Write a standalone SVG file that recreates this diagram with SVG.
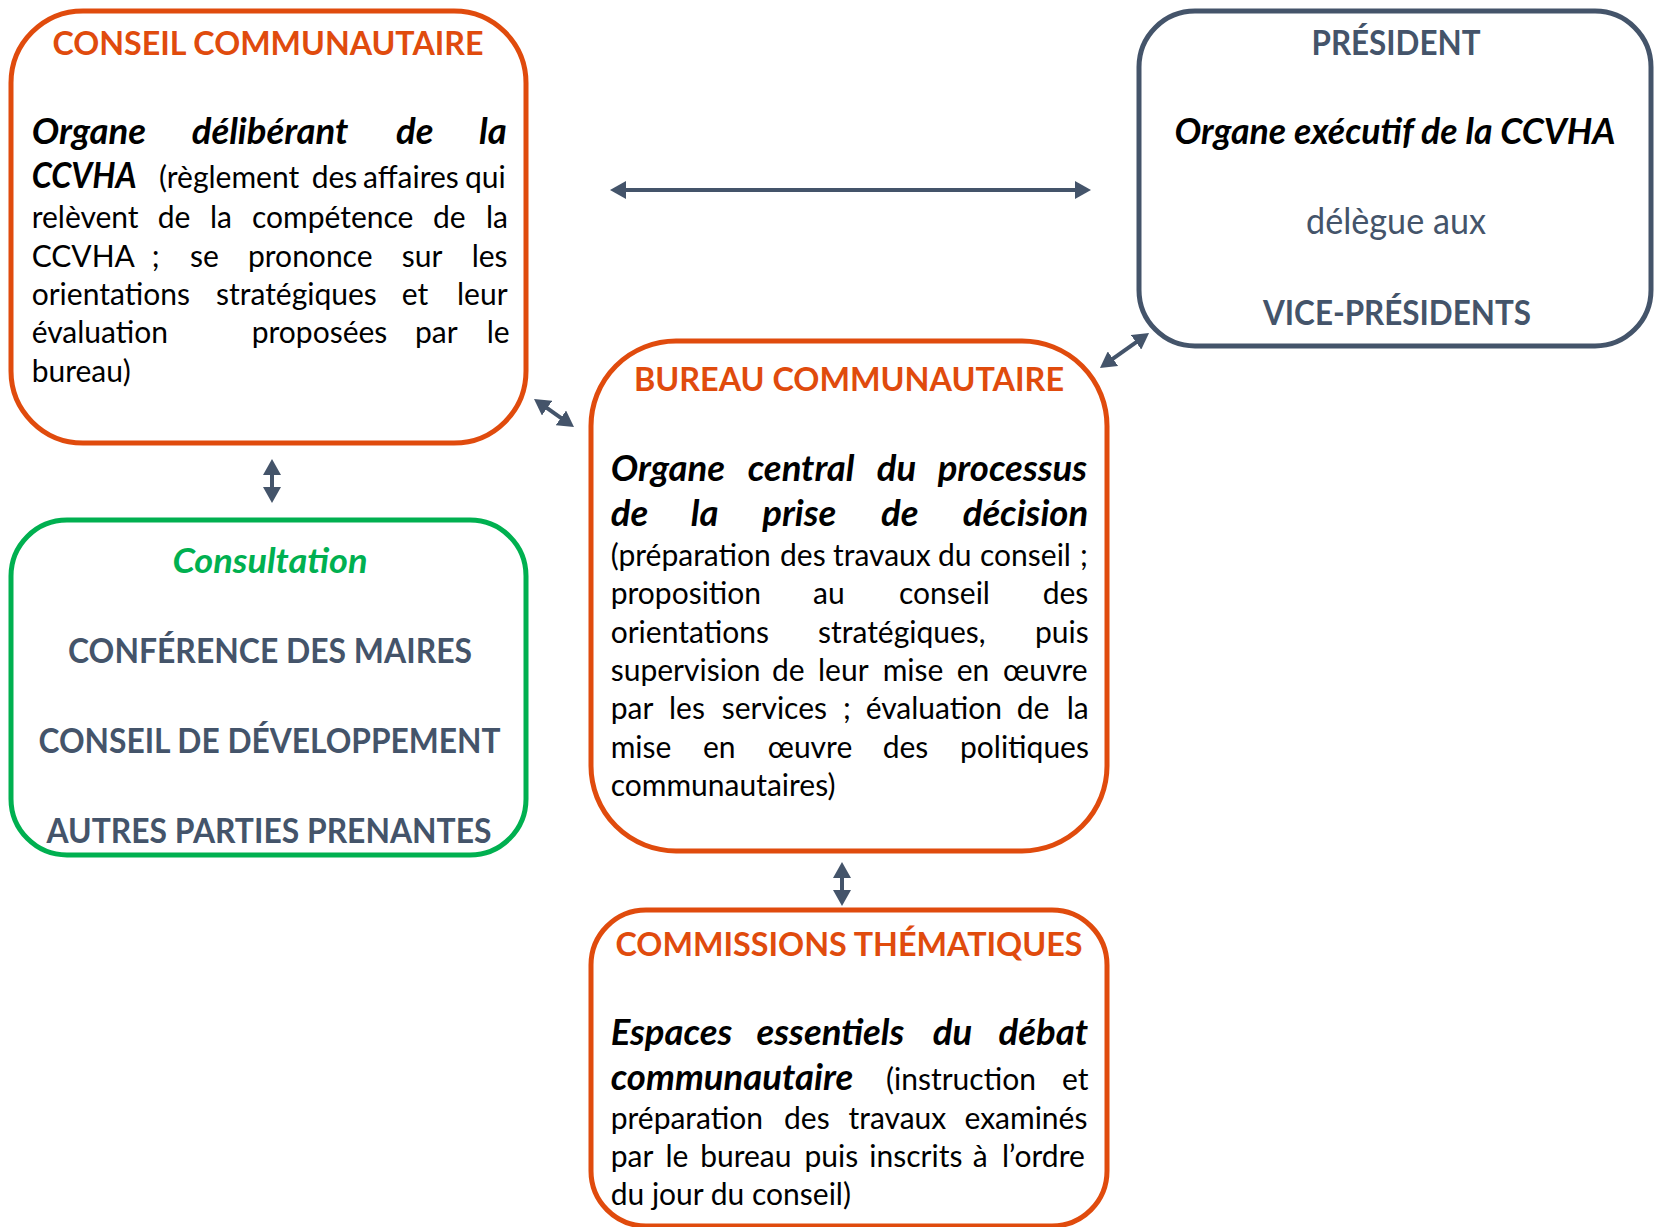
<svg xmlns="http://www.w3.org/2000/svg" width="1656" height="1227" viewBox="0 0 1656 1227">
<defs>
<style>
text{font-family:Lato,"Liberation Sans",sans-serif}
.box{fill:#fff;stroke-width:5}
.or{stroke:#E04B0D}.gy{stroke:#44546A}.gn{stroke:#00B050}
.tor{font-weight:700;font-size:32px;fill:#E04B0D}
.tgy{font-weight:700;font-size:33.5px;fill:#44546A}
.b{font-size:30px;fill:#000}
.bi{font-weight:700;font-style:italic;font-size:36.5px;fill:#000}
.conn{stroke:#44546A;stroke-width:4;fill:none}
</style>
<marker id="ah" markerUnits="userSpaceOnUse" markerWidth="16" markerHeight="18" refX="6" refY="9" orient="auto-start-reverse">
<path d="M0,0 L16,9 L0,18 z" fill="#44546A"/>
</marker>
</defs>
<rect width="1656" height="1227" fill="#fff"/>

<g id="conseil">
<rect class="box or" x="11" y="11" width="515" height="432" rx="72"/>
<text class="tor" x="268" y="55" text-anchor="middle" textLength="431" lengthAdjust="spacingAndGlyphs">CONSEIL COMMUNAUTAIRE</text>
<text class="bi" y="144"><tspan x="31.7">Organe</tspan> <tspan x="191.7">délibérant</tspan> <tspan x="396">de</tspan> <tspan x="479">la</tspan></text>
<text class="b" y="188"><tspan class="bi" x="31.7" textLength="105" lengthAdjust="spacingAndGlyphs">CCVHA</tspan> <tspan x="159">(règlement</tspan> <tspan x="311.7">des</tspan> <tspan x="363">affaires</tspan> <tspan x="465">qui</tspan></text>
<text class="b" y="228"><tspan x="31.7">relèvent</tspan> <tspan x="157.7">de</tspan> <tspan x="210">la</tspan> <tspan x="252">compétence</tspan> <tspan x="433">de</tspan> <tspan x="486">la</tspan></text>
<text class="b" y="267"><tspan x="31.7">CCVHA</tspan> <tspan x="151.7">;</tspan> <tspan x="190">se</tspan> <tspan x="248">prononce</tspan> <tspan x="401.7">sur</tspan> <tspan x="471.7">les</tspan></text>
<text class="b" y="305"><tspan x="31.7">orientations</tspan> <tspan x="216">stratégiques</tspan> <tspan x="401.7">et</tspan> <tspan x="457">leur</tspan></text>
<text class="b" y="343"><tspan x="31.7">évaluation</tspan> <tspan x="251.7">proposées</tspan> <tspan x="415">par</tspan> <tspan x="486.7">le</tspan></text>
<text class="b" x="31.7" y="382">bureau)</text>
</g>

<g id="president">
<rect class="box gy" x="1139" y="11" width="512" height="335" rx="56"/>
<text class="tgy" x="1396" y="55" text-anchor="middle" textLength="169" lengthAdjust="spacingAndGlyphs">PRÉSIDENT</text>
<text class="bi" x="1395" y="144" text-anchor="middle" textLength="441" lengthAdjust="spacingAndGlyphs">Organe exécutif de la CCVHA</text>
<text x="1396" y="234" text-anchor="middle" font-size="36" fill="#44546A" textLength="180" lengthAdjust="spacingAndGlyphs">délègue aux</text>
<text class="tgy" x="1397" y="325" text-anchor="middle" textLength="268" lengthAdjust="spacingAndGlyphs">VICE-PRÉSIDENTS</text>
</g>

<g id="bureau">
<rect class="box or" x="591" y="341" width="516" height="510" rx="85"/>
<text class="tor" x="849" y="391" text-anchor="middle" textLength="430" lengthAdjust="spacingAndGlyphs">BUREAU COMMUNAUTAIRE</text>
<text class="bi" y="481"><tspan x="610.7">Organe</tspan> <tspan x="747.7">central</tspan> <tspan x="876.7">du</tspan> <tspan x="937.7">processus</tspan></text>
<text class="bi" y="526"><tspan x="610.7">de</tspan> <tspan x="690.7">la</tspan> <tspan x="762.3">prise</tspan> <tspan x="881">de</tspan> <tspan x="962.7">décision</tspan></text>
<text class="b" y="566"><tspan x="610.7">(préparation</tspan> <tspan x="780">des</tspan> <tspan x="833">travaux</tspan> <tspan x="938">du</tspan> <tspan x="980">conseil</tspan> <tspan x="1080">;</tspan></text>
<text class="b" y="604"><tspan x="610.7">proposition</tspan> <tspan x="813">au</tspan> <tspan x="899">conseil</tspan> <tspan x="1042.7">des</tspan></text>
<text class="b" y="643"><tspan x="610.7">orientations</tspan> <tspan x="818">stratégiques,</tspan> <tspan x="1035">puis</tspan></text>
<text class="b" y="681"><tspan x="610.7">supervision</tspan> <tspan x="772">de</tspan> <tspan x="818">leur</tspan> <tspan x="882.7">mise</tspan> <tspan x="956.7">en</tspan> <tspan x="1003">œuvre</tspan></text>
<text class="b" y="719"><tspan x="610.7">par</tspan> <tspan x="669">les</tspan> <tspan x="721.7">services</tspan> <tspan x="843">;</tspan> <tspan x="865.7">évaluation</tspan> <tspan x="1016.7">de</tspan> <tspan x="1066.7">la</tspan></text>
<text class="b" y="758"><tspan x="610.7">mise</tspan> <tspan x="703">en</tspan> <tspan x="767.7">œuvre</tspan> <tspan x="882.7">des</tspan> <tspan x="960">politiques</tspan></text>
<text class="b" x="610.7" y="796">communautaires)</text>
</g>

<g id="consultation">
<rect class="box gn" x="11" y="520" width="515" height="335" rx="56"/>
<text x="270" y="573" text-anchor="middle" font-weight="700" font-style="italic" font-size="35" fill="#00B050" textLength="195" lengthAdjust="spacingAndGlyphs">Consultation</text>
<text class="tgy" x="270" y="663" text-anchor="middle" textLength="404" lengthAdjust="spacingAndGlyphs">CONFÉRENCE DES MAIRES</text>
<text class="tgy" x="269.5" y="753" text-anchor="middle" textLength="462" lengthAdjust="spacingAndGlyphs">CONSEIL DE DÉVELOPPEMENT</text>
<text class="tgy" x="269" y="843" text-anchor="middle" textLength="445" lengthAdjust="spacingAndGlyphs">AUTRES PARTIES PRENANTES</text>
</g>

<g id="commissions">
<rect class="box or" x="591" y="910" width="516" height="316" rx="55"/>
<text class="tor" x="849" y="956" text-anchor="middle" textLength="467" lengthAdjust="spacingAndGlyphs">COMMISSIONS THÉMATIQUES</text>
<text class="bi" y="1045"><tspan x="610.7">Espaces</tspan> <tspan x="756.5">essentiels</tspan> <tspan x="932.7">du</tspan> <tspan x="998.5">débat</tspan></text>
<text class="b" y="1090"><tspan class="bi" x="610.7">communautaire</tspan> <tspan x="886">(instruction</tspan> <tspan x="1062">et</tspan></text>
<text class="b" y="1129"><tspan x="610.7">préparation</tspan> <tspan x="784">des</tspan> <tspan x="848.5">travaux</tspan> <tspan x="964.5">examinés</tspan></text>
<text class="b" y="1167"><tspan x="610.7">par</tspan> <tspan x="665.5">le</tspan> <tspan x="700.2">bureau</tspan> <tspan x="804.5">puis</tspan> <tspan x="869.3">inscrits</tspan> <tspan x="972.7">à</tspan> <tspan x="1002">l’ordre</tspan></text>
<text class="b" x="610.7" y="1205">du jour du conseil)</text>
</g>

<g id="connectors">
<line class="conn" x1="620" y1="190" x2="1081" y2="190" marker-start="url(#ah)" marker-end="url(#ah)"/>
<line class="conn" x1="542.2" y1="404.7" x2="565.8" y2="421.3" marker-start="url(#ah)" marker-end="url(#ah)"/>
<line class="conn" x1="1108.1" y1="362.2" x2="1140.9" y2="338.8" marker-start="url(#ah)" marker-end="url(#ah)"/>
<line class="conn" x1="272" y1="469" x2="272" y2="493" marker-start="url(#ah)" marker-end="url(#ah)"/>
<line class="conn" x1="842" y1="872" x2="842" y2="896" marker-start="url(#ah)" marker-end="url(#ah)"/>
</g>
</svg>
